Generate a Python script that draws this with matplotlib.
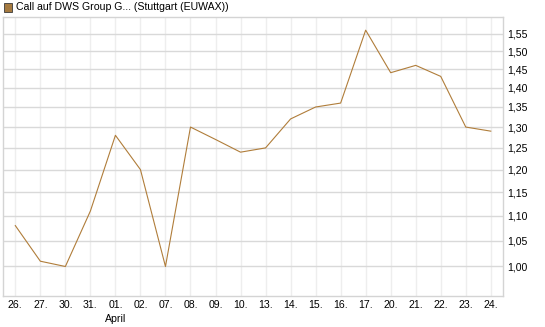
import matplotlib
matplotlib.use("Agg")
import matplotlib.pyplot as plt
from matplotlib.ticker import FixedLocator, NullLocator, FixedFormatter
from matplotlib.patches import Rectangle
import matplotlib.transforms as mtransforms

plt.rcParams['font.family'] = ['Liberation Sans', 'DejaVu Sans']

dates = ["26.", "27.", "30.", "31.", "01.", "02.", "07.", "08.", "09.", "10.",
         "13.", "14.", "15.", "16.", "17.", "20.", "21.", "22.", "23.", "24."]
values = [1.08, 1.01, 1.00, 1.11, 1.28, 1.20, 1.00, 1.30, 1.27, 1.24,
          1.25, 1.32, 1.35, 1.36, 1.56, 1.44, 1.46, 1.43, 1.30, 1.29]
yticks = [1.00, 1.05, 1.10, 1.15, 1.20, 1.25, 1.30, 1.35, 1.40, 1.45, 1.50, 1.55]
ytick_labels = ["1,00", "1,05", "1,10", "1,15", "1,20", "1,25", "1,30",
                "1,35", "1,40", "1,45", "1,50", "1,55"]
title = "Call auf DWS Group G... (Stuttgart (EUWAX))"
month_label = "April"
month_index = 4

W, H = 545, 327
fig = plt.figure(figsize=(W / 100, H / 100), dpi=100)
ax = fig.add_axes([2.8 / W, 1 - 296 / H, (503.3 - 2.8) / W, (296 - 16.7) / H])

x = list(range(len(dates)))
ax.plot(x, values, color="#b07d3a", linewidth=0.8, zorder=3)

ax.set_yscale("log")
ax.set_ylim(0.946, 1.60)
ax.set_xlim(-0.5, len(dates) - 0.5)

ax.yaxis.set_major_locator(FixedLocator(yticks))
ax.yaxis.set_major_formatter(FixedFormatter(ytick_labels))
ax.yaxis.set_minor_locator(NullLocator())
ax.yaxis.tick_right()
ax.set_xticks(x)
ax.set_xticklabels(dates)
ax.xaxis.set_minor_locator(NullLocator())

ax.tick_params(axis="both", length=0, labelsize=7.6, colors="#000000")
ax.tick_params(axis="y", pad=2.5)
ax.tick_params(axis="x", pad=3)

ax.grid(axis="y", color="#d9d9d9", linewidth=1.0, zorder=0)
ax.grid(axis="x", color="#eeeeee", linewidth=1.0, zorder=0)
ax.set_axisbelow(True)
for s in ax.spines.values():
    s.set_color("#d4d4d4")
    s.set_linewidth(1.0)

trans = mtransforms.blended_transform_factory(ax.transData, fig.transFigure)
ax.text(month_index, 1 - 318.6 / H, month_label, transform=trans,
        ha="center", va="center", fontsize=7.6)

fig.patches.append(Rectangle((4 / W, 1 - 11.5 / H), 8 / W, 8 / H,
                             transform=fig.transFigure, facecolor="#a57a40",
                             edgecolor="#3a3a3a", linewidth=0.6))
fig.text(15.5 / W, 1 - 7.5 / H, title, ha="left", va="center", fontsize=7.55)

fig.savefig("out.png", dpi=100)
